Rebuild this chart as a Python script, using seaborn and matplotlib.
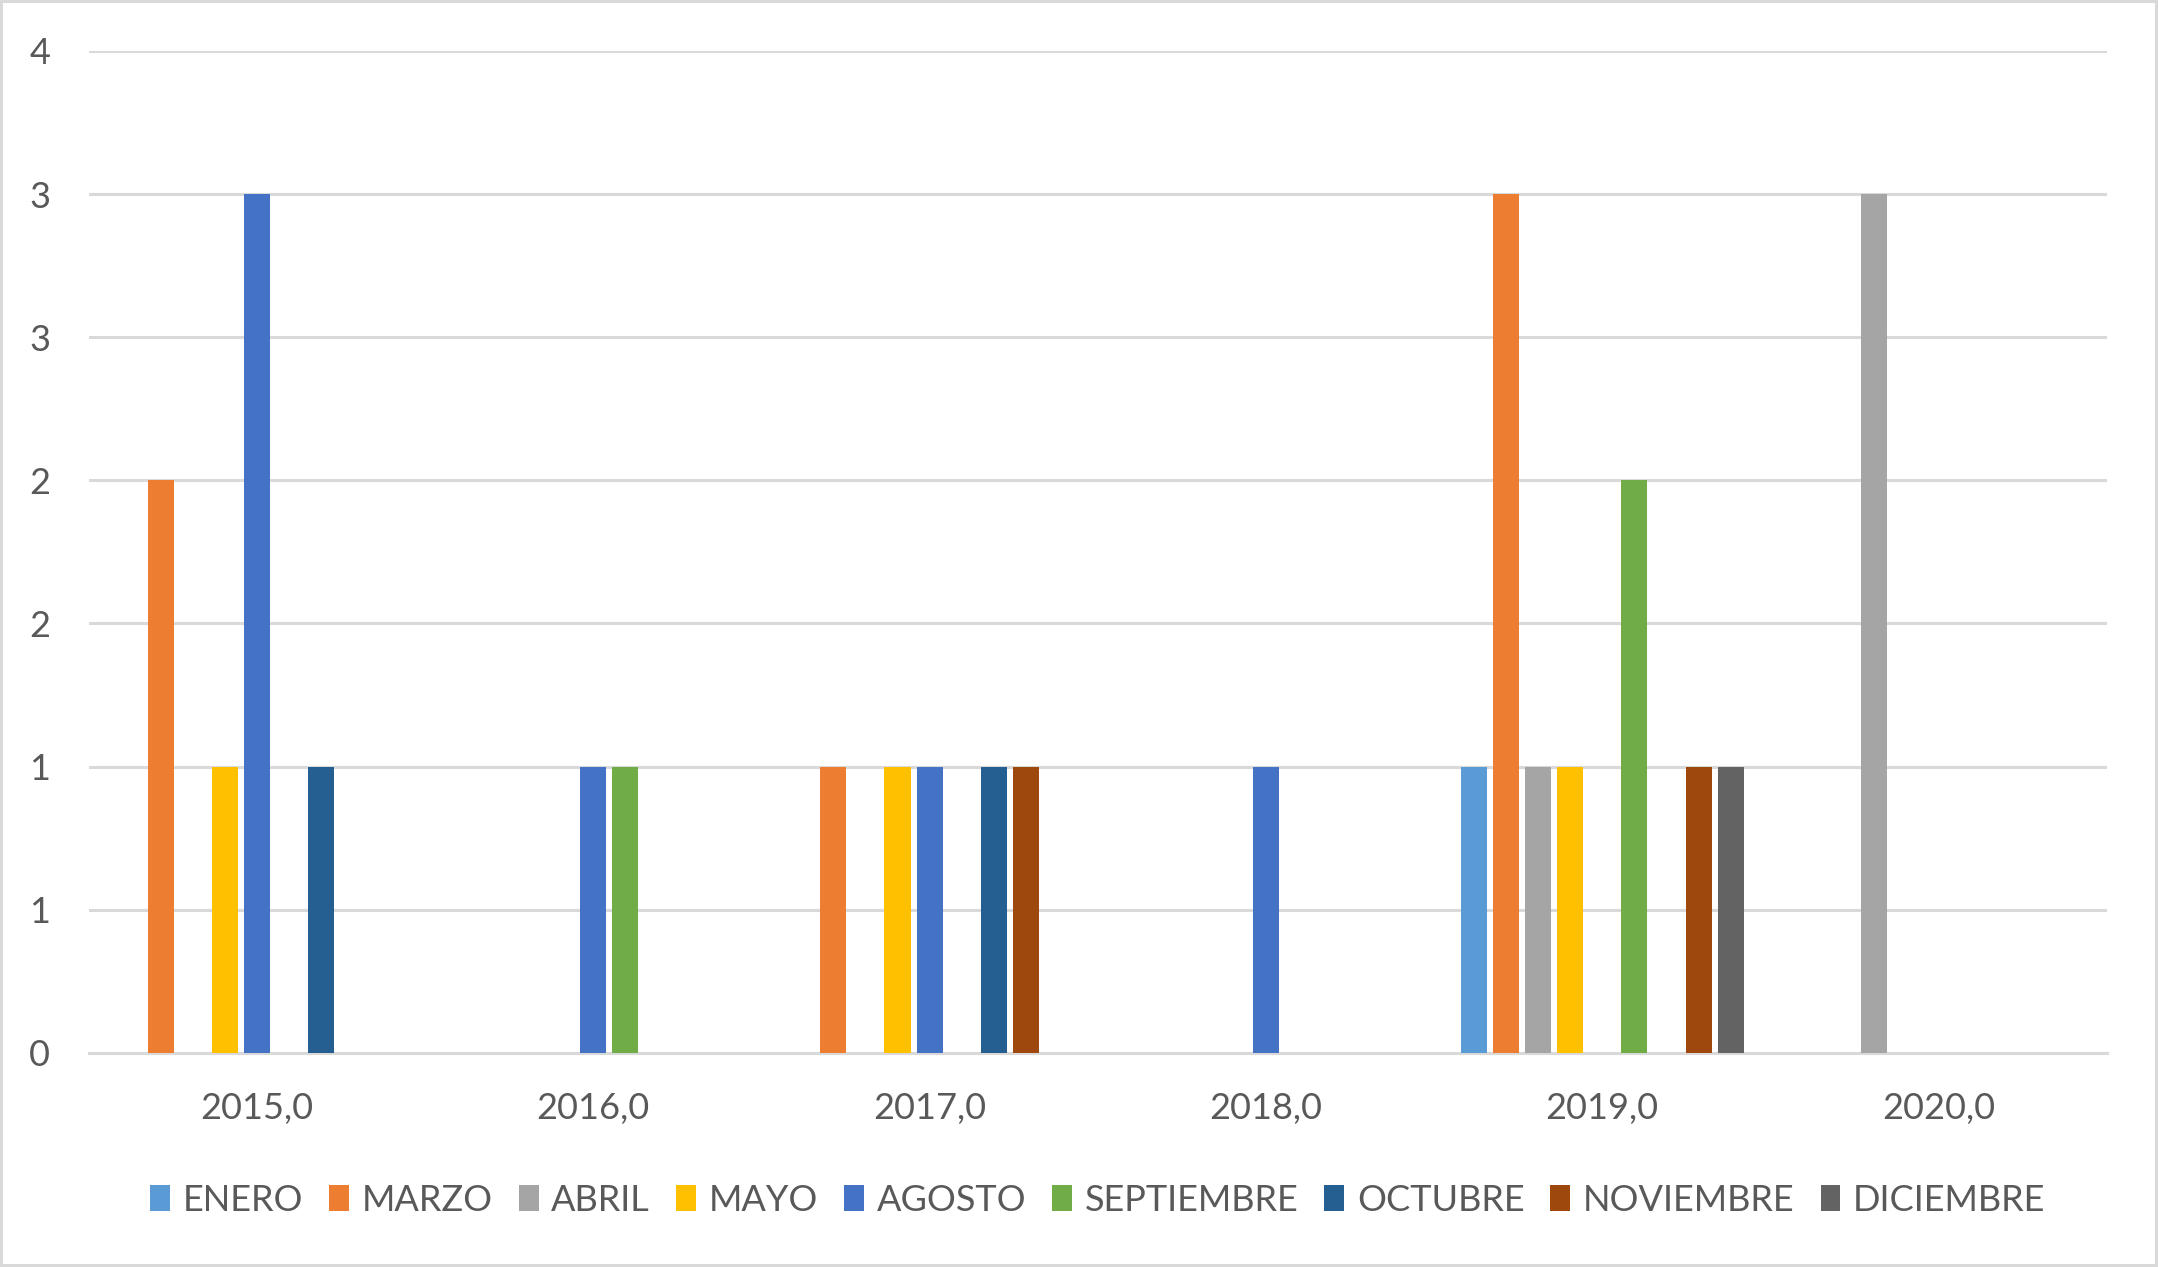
import pandas as pd
import matplotlib.pyplot as plt
import seaborn as sns

# categories (years as Excel shows them) and series (months)
years = ["2015,0", "2016,0", "2017,0", "2018,0", "2019,0", "2020,0"]
months = ["ENERO", "MARZO", "ABRIL", "MAYO", "AGOSTO",
          "SEPTIEMBRE", "OCTUBRE", "NOVIEMBRE", "DICIEMBRE"]

# counts per month, one value per year
enero = [0, 0, 0, 0, 1, 0]
marzo = [2, 0, 1, 0, 3, 0]
abril = [0, 0, 0, 0, 1, 3]
mayo = [1, 0, 1, 0, 1, 0]
agosto = [3, 1, 1, 1, 0, 0]
septiembre = [0, 1, 0, 0, 2, 0]
octubre = [1, 0, 1, 0, 0, 0]
noviembre = [0, 0, 1, 0, 1, 0]
diciembre = [0, 0, 0, 0, 1, 0]

y_ticks = [0, 0.5, 1, 1.5, 2, 2.5, 3, 3.5]
y_tick_labels = ["0", "1", "1", "2", "2", "3", "3", "4"]

colors = ["#5B9BD5", "#ED7D31", "#A5A5A5", "#FFC000", "#4472C4",
          "#70AD47", "#255E91", "#9E480E", "#636363"]

series = [enero, marzo, abril, mayo, agosto, septiembre,
          octubre, noviembre, diciembre]
rows = []
for m, vals in zip(months, series):
    for yr, v in zip(years, vals):
        rows.append({"anio": yr, "mes": m, "valor": v})
df = pd.DataFrame(rows)

sns.set_style("white")
plt.rcParams['font.family'] = ['Lato', 'DejaVu Sans']
text_color = "#595959"
grid_color = "#D9D9D9"

fig = plt.figure(figsize=(21.58, 12.67), dpi=100)
ax = fig.add_axes([0.0412, 0.169, 0.935, 0.7908])

sns.barplot(data=df, x="anio", y="valor", hue="mes", order=years,
            hue_order=months, palette=colors, width=0.86, gap=0.19,
            errorbar=None, linewidth=0, saturation=1, ax=ax, zorder=3)

ax.set_ylim(0, 3.5)
ax.set_yticks(y_ticks)
ax.set_yticklabels(y_tick_labels)
ax.set_xlim(-0.5, len(years) - 0.5)
ax.yaxis.grid(True, color=grid_color, linewidth=2.2, zorder=0)
ax.set_axisbelow(True)
for side in ["top", "right", "left"]:
    ax.spines[side].set_visible(False)
ax.spines["bottom"].set_color(grid_color)
ax.spines["bottom"].set_linewidth(2.2)
ax.tick_params(axis="both", length=0, labelsize=26, labelcolor=text_color)
ax.tick_params(axis="y", pad=28)
ax.tick_params(axis="x", pad=28)
ax.set_xlabel("")
ax.set_ylabel("")

ax.legend(loc="upper center", bbox_to_anchor=(0.5, -0.098), ncol=9,
          frameon=False, fontsize=26, labelcolor=text_color,
          handlelength=0.55, handleheight=0.75, handletextpad=0.35,
          columnspacing=0.72)

fig.patch.set_edgecolor(grid_color)
fig.patch.set_linewidth(3)

fig.savefig("out.png", dpi=100, edgecolor=fig.get_edgecolor())
